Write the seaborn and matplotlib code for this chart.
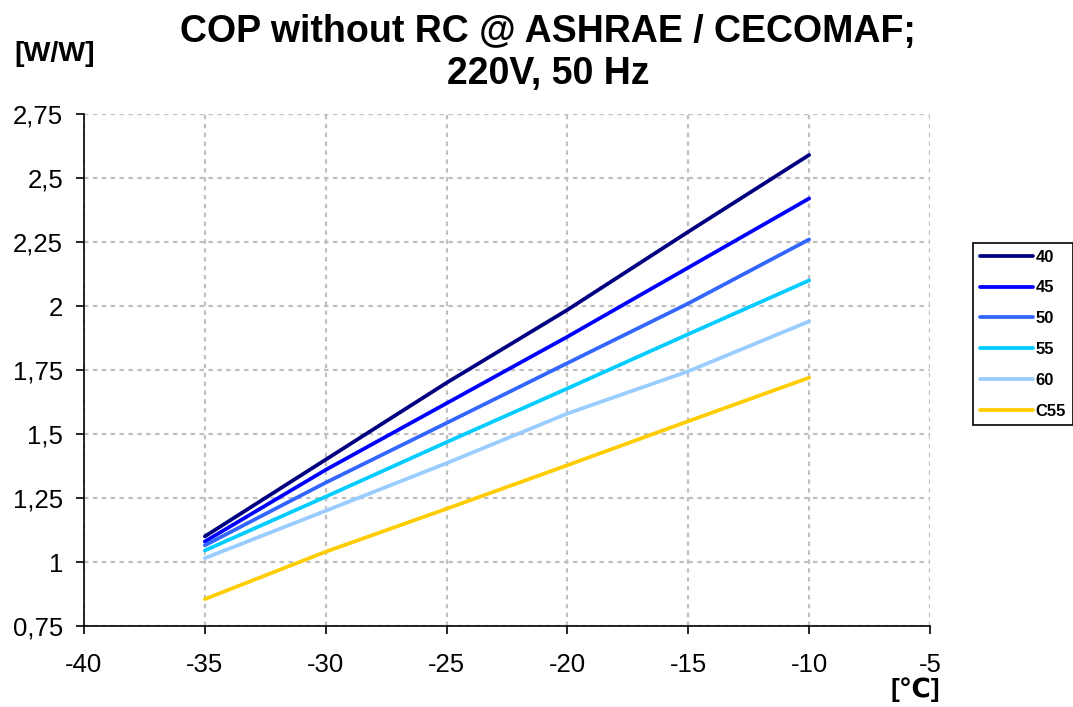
import matplotlib
matplotlib.use("Agg")
import matplotlib.pyplot as plt
import seaborn as sns
import pandas as pd
from matplotlib.ticker import FuncFormatter

# ---- data ----
temps = [-35, -30, -25, -20, -15, -10]
s40 = [1.10, 1.40, 1.70, 1.985, 2.29, 2.59]
s45 = [1.08, 1.36, 1.62, 1.88, 2.15, 2.42]
s50 = [1.065, 1.31, 1.543, 1.777, 2.01, 2.26]
s55 = [1.045, 1.255, 1.468, 1.678, 1.89, 2.10]
s60 = [1.015, 1.20, 1.386, 1.58, 1.745, 1.94]
c55 = [0.855, 1.04, 1.208, 1.378, 1.55, 1.72]
series_names = ["40", "45", "50", "55", "60", "C55"]
series_vals = [s40, s45, s50, s55, s60, c55]
colors = ["#000080", "#0000FF", "#3366FF", "#00CCFF", "#99CCFF", "#FFCC00"]
x_ticks = [-40, -35, -30, -25, -20, -15, -10, -5]
y_ticks = [0.75, 1.0, 1.25, 1.5, 1.75, 2.0, 2.25, 2.5, 2.75]

rows = []
for name, vals in zip(series_names, series_vals):
    for t, v in zip(temps, vals):
        rows.append({"T": t, "COP": v, "series": name})
df = pd.DataFrame(rows)

sns.set_theme(style="white")
plt.rcParams["font.family"] = ["Liberation Sans", "DejaVu Sans"]
plt.rcParams["text.color"] = "black"
plt.rcParams["axes.labelcolor"] = "black"

fig = plt.figure(figsize=(10.73, 7.07), dpi=100)
ax = fig.add_axes([84/1073, 1-626/707, (930-84)/1073, (626-114)/707])

sns.lineplot(data=df, x="T", y="COP", hue="series", hue_order=series_names,
             palette=dict(zip(series_names, colors)), linewidth=2.7, ax=ax,
             legend=True)

ax.set_xlim(-40, -5)
ax.set_ylim(0.75, 2.75)
ax.set_xticks(x_ticks)
ax.set_yticks(y_ticks)

def fmt(v, pos):
    s = ("%.2f" % v).rstrip("0").rstrip(".")
    return s.replace(".", ",")

ax.yaxis.set_major_formatter(FuncFormatter(fmt))
ax.xaxis.set_major_formatter(FuncFormatter(lambda v, p: "%d" % v))
ax.set_xlabel("")
ax.set_ylabel("")

ax.grid(True, color="#C0C0C0", linestyle=(0, (2, 2)), linewidth=1.6)
ax.set_axisbelow(True)
for sp in ["top", "right"]:
    ax.spines[sp].set_visible(False)
for sp in ["left", "bottom"]:
    ax.spines[sp].set_color("black")
    ax.spines[sp].set_linewidth(1.2)

ax.tick_params(axis="both", direction="out", length=5.5, width=1.2,
               color="black", labelsize=18.5, labelcolor="black")
ax.tick_params(axis="y", pad=9.5)
ax.tick_params(axis="x", pad=14)
ax.tick_params(left=True, bottom=True)

leg = ax.legend(loc="upper left", bbox_to_anchor=(973/1073, 1-243/707),
                bbox_transform=fig.transFigure, frameon=True, fancybox=False,
                edgecolor="black", framealpha=1, handlelength=3.2,
                handletextpad=0.15, labelspacing=0.95, borderpad=0.4,
                borderaxespad=0, prop={"weight": "bold", "size": 12})
leg.get_frame().set_linewidth(1.2)
for line in leg.get_lines():
    line.set_linewidth(2.7)
for t in leg.get_texts():
    t.set_color("black")

fig.text(548/1073, 1-14/707, "COP without RC @ ASHRAE / CECOMAF;\n220V, 50 Hz",
         ha="center", va="top", fontsize=27, fontweight="bold", linespacing=1.2,
         color="black")
fig.text(14/1073, 1-54/707, "[W/W]", ha="left", va="center", fontsize=20.5,
         fontweight="bold", color="black")
fig.text(915/1073, 1-690/707, "[℃]", ha="center", va="center", fontsize=19,
         fontweight="bold", color="black", family=["Liberation Sans", "DejaVu Sans"])

fig.savefig("out.png", dpi=100)
